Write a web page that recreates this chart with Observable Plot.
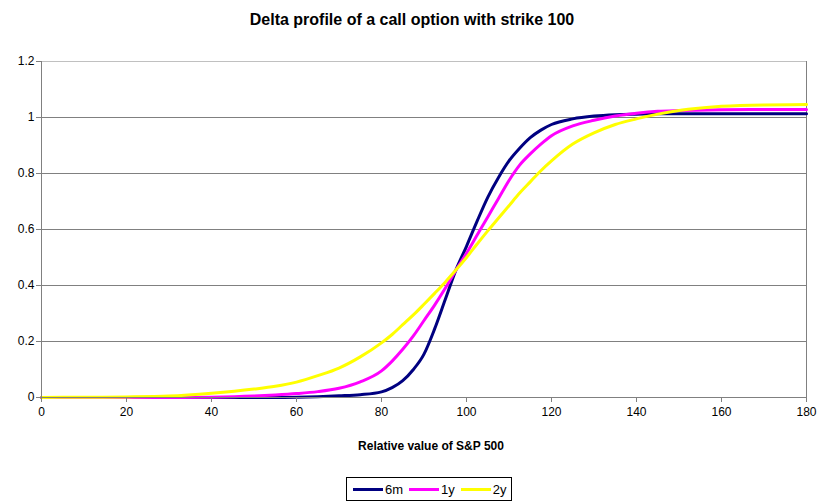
<!DOCTYPE html>
<html>
<head>
<meta charset="utf-8">
<script src="https://cdn.jsdelivr.net/npm/d3@7"></script>
<script src="https://cdn.jsdelivr.net/npm/@observablehq/plot@0.6"></script>
<style>
  html, body { margin: 0; padding: 0; background: #fff; }
  #wrap { position: relative; width: 818px; height: 502px; font-family: "Liberation Sans", Arial, sans-serif; }
  #title { position: absolute; left: 3px; top: 11px; width: 818px; text-align: center; font-weight: bold; font-size: 16px; line-height: 18px; color: #000; }
  #chart { position: absolute; left: 0; top: 40px; }
  #legend { position: absolute; left: 346px; top: 477px; width: 164px; height: 22px; border: 1px solid #000; display: flex; align-items: center; font-size: 13px; box-sizing: content-box; }
  .item { display: flex; align-items: center; margin-left: 6px; }
  .sw { width: 30px; height: 3px; margin-right: 2px; }
</style>
</head>
<body>
<div id="wrap">
  <div id="title">Delta profile of a call option with strike 100</div>
  <div id="chart"></div>
  <div id="legend"></div>
</div>
<script>
const spot = [0,10,20,30,40,50,55,60,65,70,75,80,82.5,85,87.5,90,92.5,95,97.5,100,102.5,105,107.5,110,112.5,115,117.5,120,125,130,135,140,145,150,160,170,180];
const delta6m = [0,0,0,0,0,0,0,0.001,0.003,0.006,0.01,0.02,0.035,0.06,0.1,0.155,0.245,0.35,0.455,0.54,0.63,0.715,0.785,0.845,0.89,0.928,0.955,0.975,0.995,1.005,1.01,1.012,1.013,1.013,1.013,1.013,1.013];
const delta1y = [0,0,0,0,0.001,0.005,0.009,0.014,0.021,0.033,0.056,0.095,0.13,0.172,0.22,0.275,0.33,0.39,0.455,0.515,0.58,0.645,0.71,0.775,0.83,0.87,0.905,0.935,0.97,0.99,1.005,1.015,1.022,1.025,1.028,1.029,1.029];
const delta2y = [0,0.001,0.002,0.005,0.015,0.03,0.04,0.055,0.078,0.105,0.145,0.195,0.225,0.26,0.295,0.333,0.372,0.412,0.455,0.5,0.548,0.595,0.64,0.685,0.73,0.77,0.81,0.845,0.905,0.945,0.975,0.995,1.012,1.025,1.04,1.045,1.046];
const seriesNames = ["6m", "1y", "2y"];
const seriesColors = ["#000080", "#ff00ff", "#ffff00"];
const xTicks = [0,20,40,60,80,100,120,140,160,180];
const yTicks = [0,0.2,0.4,0.6,0.8,1,1.2];
const xLabel = "Relative value of S&P 500";

const seriesValues = [delta6m, delta1y, delta2y];
const rows = seriesValues.flatMap((vals, i) => spot.map((s, j) => ({series: seriesNames[i], x: s, y: vals[j]})));

const chart = Plot.plot({
  width: 818,
  height: 425,
  marginTop: 21,
  marginBottom: 68,
  marginLeft: 41,
  marginRight: 12,
  style: { fontFamily: "'Liberation Sans', Arial, sans-serif", fontSize: "12px", color: "#000", background: "#fff" },
  x: { domain: [0, 180] },
  y: { domain: [0, 1.2] },
  marks: [
    Plot.ruleY(yTicks.filter(d => d > 0 && d < 1.2), { stroke: "#808080", strokeWidth: 1 }),
    Plot.ruleY([1.2], { stroke: "#c0c0c0", strokeWidth: 1 }),
    Plot.ruleX([180], { stroke: "#808080", strokeWidth: 1 }),
    ...seriesNames.map((name, i) =>
      Plot.line(rows.filter(r => r.series === name), { x: "x", y: "y", stroke: seriesColors[i], strokeWidth: 3, curve: "monotone-x" })
    ),
    Plot.ruleY([0], { stroke: "#808080", strokeWidth: 1 }),
    Plot.ruleX([0], { stroke: "#808080", strokeWidth: 1 }),
    Plot.axisX({ ticks: xTicks, tickSize: 5, tickPadding: 5, stroke: "#808080", fill: "#000", label: null, tickFormat: d => String(d) }),
    Plot.axisY({ ticks: yTicks, tickSize: 5, tickPadding: 2, stroke: "#808080", fill: "#000", label: null, tickFormat: d => String(+d.toFixed(1)) }),
    Plot.text([xLabel], { frameAnchor: "bottom", dy: 52, dx: 7, text: d => d, fontWeight: "bold", fontSize: 12, fill: "#000" })
  ]
});
document.getElementById("chart").appendChild(chart);

const legend = document.getElementById("legend");
seriesNames.forEach((name, i) => {
  const item = document.createElement("div");
  item.className = "item";
  const sw = document.createElement("div");
  sw.className = "sw";
  sw.style.background = seriesColors[i];
  const lab = document.createElement("span");
  lab.textContent = name;
  item.appendChild(sw);
  item.appendChild(lab);
  legend.appendChild(item);
});
</script>
</body>
</html>
